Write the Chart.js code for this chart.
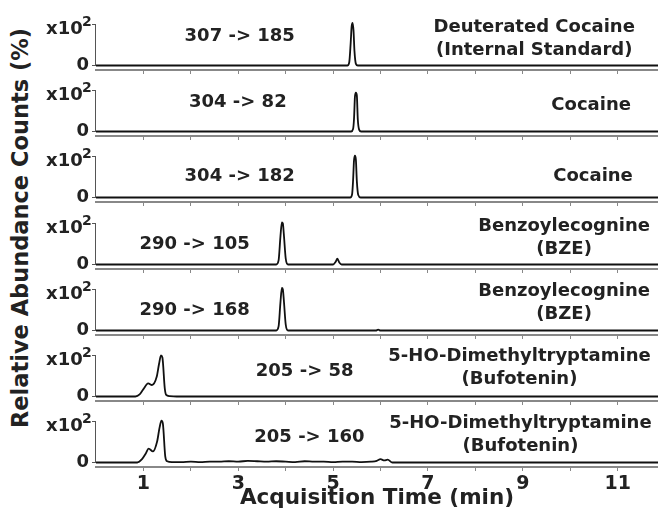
<!DOCTYPE html>
<html>
<head>
<meta charset="utf-8">
<script src="https://cdn.jsdelivr.net/npm/chart.js@4.4.1/dist/chart.umd.min.js"></script>
<style>
  body { margin: 0; background: #fff; }
  #wrap { position: relative; width: 658px; height: 510px; overflow: hidden; }
  #wrap canvas { position: absolute; left: 0; }
  #ytitle {
    position: absolute; left: 20px; top: 228px;
    transform: translate(-50%, -50%) rotate(-90deg);
    font: bold 22.5px "DejaVu Sans"; color: #222; white-space: nowrap;
  }
</style>
</head>
<body>
<div id="wrap"><div id="ytitle">Relative Abundance Counts (%)</div></div>
<script>
// MRM transitions and compound names, top panel first
const transitions = ['307 -> 185', '304 -> 82', '304 -> 182', '290 -> 105', '290 -> 168', '205 -> 58', '205 -> 160'];
const compounds = [
  ['Deuterated Cocaine', '(Internal Standard)'],
  ['Cocaine'],
  ['Cocaine'],
  ['Benzoylecognine', '(BZE)'],
  ['Benzoylecognine', '(BZE)'],
  ['5-HO-Dimethyltryptamine', '(Bufotenin)'],
  ['5-HO-Dimethyltryptamine', '(Bufotenin)']
];
const xTickValues = [1, 2, 3, 4, 5, 6, 7, 8, 9, 10, 11];
const yTickValues = [0, 100];

// time (min) / relative abundance (%)
const time1 = [0, 5.30, 5.34, 5.37, 5.39, 5.41, 5.43, 5.45, 5.48, 5.52, 11.85];
const abund1 = [0, 0, 8, 55, 95, 104, 85, 35, 4, 0, 0];
const time2 = [0, 5.38, 5.42, 5.44, 5.46, 5.48, 5.50, 5.52, 5.55, 5.59, 11.85];
const abund2 = [0, 0, 6, 30, 85, 95, 88, 30, 4, 0, 0];
const time3 = [0, 5.36, 5.40, 5.42, 5.44, 5.46, 5.48, 5.50, 5.53, 5.58, 11.85];
const abund3 = [0, 0, 8, 40, 90, 102, 92, 40, 6, 0, 0];
const time4 = [0, 3.80, 3.85, 3.89, 3.92, 3.94, 3.96, 4.00, 4.05, 5.00, 5.05, 5.09, 5.13, 5.18, 11.85];
const abund4 = [0, 0, 10, 70, 103, 100, 75, 15, 0, 0, 6, 14, 5, 0, 0];
const time5 = [0, 3.80, 3.85, 3.89, 3.92, 3.94, 3.96, 4.00, 4.05, 5.90, 5.95, 6.00, 11.85];
const abund5 = [0, 0, 10, 70, 104, 100, 75, 15, 0, 0, 2, 0, 0];
const time6 = [0, 0.83, 0.92, 1.00, 1.10, 1.18, 1.28, 1.33, 1.37, 1.40, 1.45, 1.48, 1.55, 1.70, 11.85];
const abund6 = [0, 0, 5, 18, 32, 28, 48, 80, 100, 95, 20, 4, 1, 0, 0];
const time7 = [0, 0.87, 0.97, 1.05, 1.11, 1.20, 1.29, 1.34, 1.38, 1.41, 1.46, 1.50, 1.60,
  1.8, 2.0, 2.2, 2.4, 2.6, 2.8, 3.0, 3.2, 3.4, 3.6, 3.8, 4.0, 4.2, 4.4, 4.6, 4.8, 5.0,
  5.2, 5.4, 5.6, 5.8, 5.92, 6.0, 6.08, 6.15, 6.25, 11.85];
const abund7 = [0, 0, 8, 22, 34, 27, 52, 85, 102, 95, 15, 3, 1,
  1, 2, 1, 2, 2, 3, 2, 4, 3, 2, 3, 2, 1, 3, 2, 2, 1,
  2, 2, 1, 2, 4, 8, 5, 7, 0, 0];

const times = [time1, time2, time3, time4, time5, time6, time7];
const abunds = [abund1, abund2, abund3, abund4, abund5, abund6, abund7];

// label anchors in data units: [time, %]
const transitionPos = [[3.03, 70], [2.99, 71], [3.03, 51], [2.08, 49], [2.08, 49], [4.4, 61], [4.5, 61]];
const compoundPos = [[9.24, 94], [10.44, 63], [10.48, 51], [9.87, 93], [9.87, 95], [8.93, 98], [8.95, 96]];

const FONT = '"DejaVu Sans"';
const wrap = document.getElementById('wrap');

for (let i = 0; i < 7; i++) {
  const isLast = i === 6;
  const top100 = Math.round(24 + 66.2 * i);
  const h = isLast ? 106 : 68;
  const canvas = document.createElement('canvas');
  canvas.width = 658;
  canvas.height = h;
  canvas.style.top = (top100 - 16) + 'px';
  wrap.appendChild(canvas);

  const labels = {
    id: 'labels' + i,
    afterDatasetsDraw(chart) {
      const ctx = chart.ctx;
      const x = chart.scales.x, y = chart.scales.y;
      const p100 = y.getPixelForValue(100);
      ctx.save();
      // y spine only between 0 and x10^2
      ctx.strokeStyle = '#555';
      ctx.lineWidth = 1;
      ctx.beginPath();
      ctx.moveTo(x.left - 0.5, p100);
      ctx.lineTo(x.left - 0.5, y.getPixelForValue(0));
      ctx.stroke();

      ctx.fillStyle = '#222';
      // exponent of the x10 tick label
      ctx.font = 'bold 14px ' + FONT;
      ctx.textAlign = 'left';
      ctx.textBaseline = 'alphabetic';
      ctx.fillText('2', x.left - 14, p100 + 1);

      ctx.font = 'bold 18px ' + FONT;
      ctx.textAlign = 'center';
      ctx.textBaseline = 'middle';
      ctx.fillText(transitions[i], x.getPixelForValue(transitionPos[i][0]), y.getPixelForValue(transitionPos[i][1]));
      const cx = x.getPixelForValue(compoundPos[i][0]);
      const cy = y.getPixelForValue(compoundPos[i][1]);
      compounds[i].forEach((line, k) => ctx.fillText(line, cx, cy + k * 23));
      ctx.restore();
    }
  };

  new Chart(canvas.getContext('2d'), {
    type: 'line',
    data: {
      datasets: [{
        data: times[i].map((t, k) => ({ x: t, y: abunds[i][k] })),
        borderColor: '#111',
        borderWidth: 1.8,
        pointRadius: 0,
        cubicInterpolationMode: 'monotone',
        fill: false
      }]
    },
    options: {
      responsive: false,
      animation: false,
      layout: { padding: { top: 12, left: 0, right: 0, bottom: 0 } },
      plugins: { legend: { display: false }, tooltip: { enabled: false } },
      scales: {
        x: {
          type: 'linear',
          min: 0,
          max: 11.85,
          afterBuildTicks: s => { s.ticks = xTickValues.map(v => ({ value: v })); },
          afterFit: s => { s.height = isLast ? 44 : 6; s.paddingLeft = 0; s.paddingRight = 0; },
          border: { display: true, color: '#888', width: 2 },
          grid: { drawOnChartArea: false, drawTicks: true, tickLength: 4, color: '#888' },
          ticks: {
            display: isLast,
            padding: 2,
            color: '#222',
            font: { family: FONT, weight: 'bold', size: 19 },
            maxRotation: 0,
            autoSkip: false,
            callback: v => (v % 2 ? String(v) : '')
          },
          title: {
            display: isLast,
            text: 'Acquisition Time (min)',
            color: '#222',
            padding: 0,
            font: { family: FONT, weight: 'bold', size: 21.5 }
          }
        },
        y: {
          min: -11,
          max: 111,
          afterBuildTicks: s => { s.ticks = yTickValues.map(v => ({ value: v })); },
          afterFit: s => { s.width = 96; s.paddingTop = 0; s.paddingBottom = 0; },
          border: { display: false },
          grid: { drawOnChartArea: false, drawTicks: true, tickLength: 4, color: '#555' },
          ticks: {
            padding: 3,
            color: '#222',
            font: { family: FONT, weight: 'bold', size: 18, lineHeight: '9px' },
            // second line drops "x10" below the tick so the exponent sits on it
            callback: v => (v === 100 ? ['', 'x10 '] : String(v))
          }
        }
      }
    },
    plugins: [labels]
  });
}
</script>
</body>
</html>
